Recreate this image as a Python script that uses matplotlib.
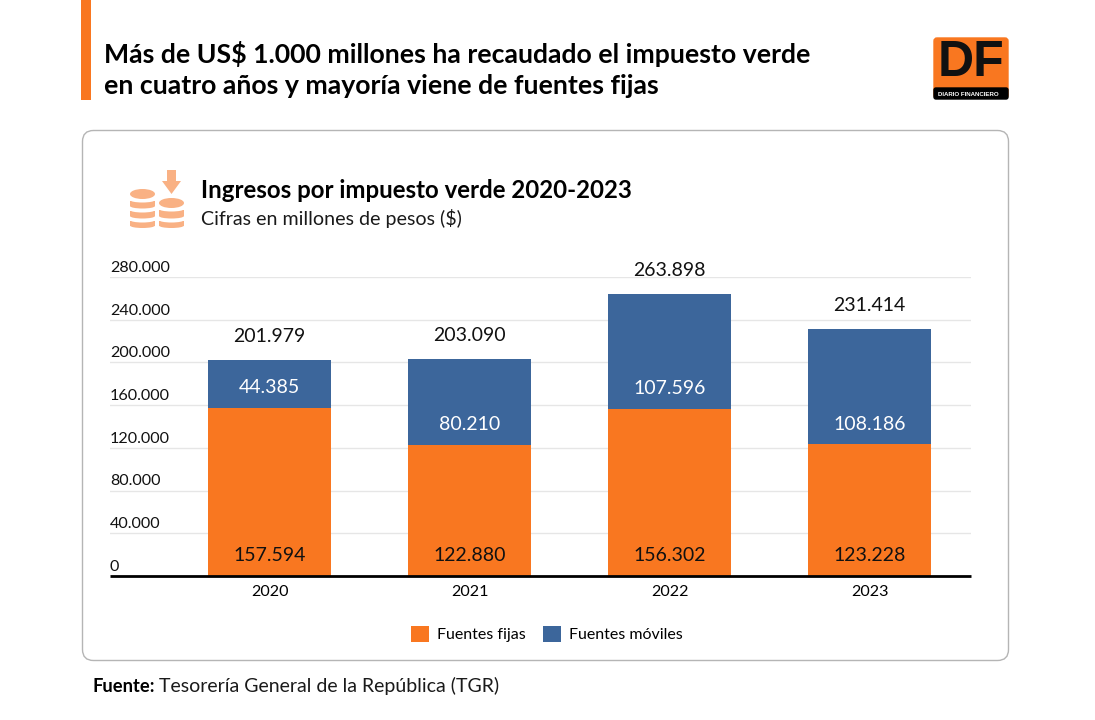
import matplotlib
matplotlib.use('Agg')
import matplotlib.pyplot as plt
from matplotlib.patches import Rectangle, FancyBboxPatch, Polygon, Ellipse
from matplotlib.transforms import blended_transform_factory, offset_copy

years = ['2020', '2021', '2022', '2023']
fuentes_fijas = [157594, 122880, 156302, 123228]
fuentes_moviles = [44385, 80210, 107596, 108186]
y_ticks = [0, 40000, 80000, 120000, 160000, 200000, 240000, 280000]

ORANGE = '#F97720'
BLUE = '#3C669B'
ICON = '#F9B184'
W, H = 1095, 720

plt.rcParams['font.family'] = ['Lato', 'DejaVu Sans']


def fmt(v):
    return f'{v:,}'.replace(',', '.')


def coin_stack(cx, top_y, band_ys):
    # one stack of coins: bands drawn bottom-up, each with a curved lower edge
    for y0, y1 in reversed(band_ys):
        bg.add_patch(Ellipse((cx, y1 - 2.5), 25, 5, color=ICON, lw=0))
        bg.add_patch(Rectangle((cx - 12.5, y0), 25, y1 - y0 - 2.5, color=ICON, lw=0))
        bg.add_patch(Ellipse((cx, y0 - 1), 25, 5, color='white', lw=0))
    bg.add_patch(Ellipse((cx, top_y), 25, 10, color=ICON, lw=0))


fig = plt.figure(figsize=(W / 100, H / 100), dpi=100, facecolor='white')

# page layer in pixel coordinates, y going down
bg = fig.add_axes([0, 0, 1, 1], zorder=0)
bg.set_xlim(0, W)
bg.set_ylim(H, 0)
bg.axis('off')

# header
bg.add_patch(Rectangle((81, 0), 10, 100, color=ORANGE, lw=0))
bg.text(104, 54, 'Más de US$ 1.000 millones ha recaudado el impuesto verde',
        fontsize=19.15, fontweight='bold', va='center', color='black')
bg.text(104, 86, 'en cuatro años y mayoría viene de fuentes fijas',
        fontsize=19.15, fontweight='bold', va='center', color='black')

# DF logo
bg.add_patch(FancyBboxPatch((934, 38), 74, 60, boxstyle='round,pad=0,rounding_size=3',
                            fc=ORANGE, ec=ORANGE, lw=1))
bg.add_patch(FancyBboxPatch((934, 88), 74, 11, boxstyle='round,pad=0,rounding_size=2',
                            fc='black', ec='black', lw=1))
bg.text(971, 63.5, 'DF', fontsize=36, fontweight='bold', color='#111111', ha='center', va='center',
        family=['Liberation Sans', 'DejaVu Sans'])
bg.text(968, 94.5, 'DIARIO FINANCIERO', fontsize=4.4, fontweight='bold', color='white',
        ha='center', va='center', family=['Liberation Sans', 'DejaVu Sans'])

# card
bg.add_patch(FancyBboxPatch((82.5, 130.5), 926, 530, boxstyle='round,pad=0,rounding_size=11',
                            fc='white', ec='#B5B5B5', lw=1))

# coins icon
coin_stack(142.5, 194, [(201, 208.5), (211, 218.5), (221, 228)])
coin_stack(171.5, 203, [(210, 218.5), (221, 228)])
bg.add_patch(Rectangle((167, 170), 9, 12, color=ICON, lw=0))
bg.add_patch(Polygon([(162, 181), (181, 181), (171.5, 194)], color=ICON, lw=0))

bg.text(201, 191, 'Ingresos por impuesto verde 2020-2023', fontsize=17.3, fontweight='bold',
        va='center', color='black')
bg.text(201, 219, 'Cifras en millones de pesos ($)', fontsize=14.1, va='center', color='#1A1A1A')

# source line
bg.text(93, 686, 'Fuente:', fontsize=13.2, fontweight='bold', va='center', color='black')
bg.text(159, 686, 'Tesorería General de la República (TGR)', fontsize=14, va='center', color='#1A1A1A')

# chart
left, right, top, bottom = 110, 971, 277, 576
ax = fig.add_axes([left / W, 1 - bottom / H, (right - left) / W, (bottom - top) / H],
                  facecolor='none', zorder=1)
ax.set_xlim(-0.7975, 3.5075)
ax.set_ylim(0, 280000)
for s in ['top', 'left', 'right']:
    ax.spines[s].set_visible(False)
ax.spines['bottom'].set_linewidth(2)
ax.spines['bottom'].set_color('black')
ax.spines['bottom'].set_capstyle('butt')
ax.set_axisbelow(True)
ax.set_yticks(y_ticks)
ax.yaxis.grid(True, color='#E6E6E6', lw=1)
ax.tick_params(axis='y', left=False, labelleft=False)
ax.set_xticks(range(len(years)), years)
ax.tick_params(axis='x', length=0, pad=6.5, labelsize=11.6)

x = range(len(years))
ax.bar(x, fuentes_fijas, width=0.615, color=ORANGE, label='Fuentes fijas', zorder=2)
ax.bar(x, fuentes_moviles, width=0.615, bottom=fuentes_fijas, color=BLUE, label='Fuentes móviles', zorder=2)

# y labels sit on top of their gridlines, flush left
tr = offset_copy(blended_transform_factory(ax.transAxes, ax.transData), fig=fig, y=1.5, units='points')
for t in y_ticks:
    ax.text(0, t, fmt(t), transform=tr, fontsize=11.6, ha='left', va='bottom', color='#111111')

for i in x:
    base = fuentes_fijas[i]
    total = base + fuentes_moviles[i]
    ax.annotate(fmt(base), (i, 0), xytext=(0, 14.5), textcoords='offset points', ha='center',
                va='center', fontsize=14, color='#111111', zorder=3)
    ax.annotate(fmt(fuentes_moviles[i]), (i, base), xytext=(0, 14.5), textcoords='offset points',
                ha='center', va='center', fontsize=14, color='white', zorder=3)
    ax.annotate(fmt(total), (i, total), xytext=(0, 17), textcoords='offset points', ha='center',
                va='center', fontsize=14, color='#111111', zorder=3)

fig.legend(*ax.get_legend_handles_labels(), loc='center', bbox_to_anchor=(547 / W, 1 - 634 / H),
           ncol=2, frameon=False, fontsize=11.5, handlelength=1.13, handleheight=1.13,
           handletextpad=0.5, columnspacing=1.1)

fig.savefig('out.png', dpi=100, facecolor='white')
